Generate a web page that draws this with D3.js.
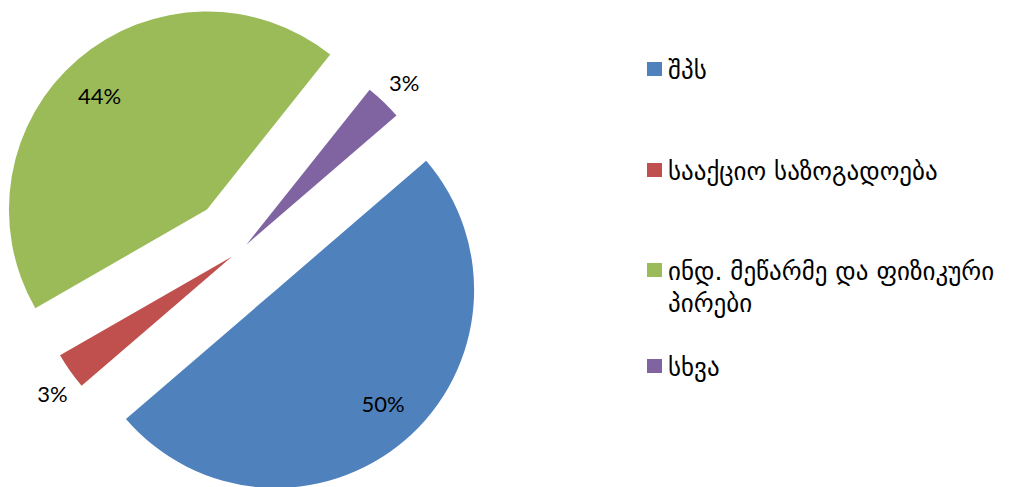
<!DOCTYPE html>
<html>
<head>
<meta charset="utf-8">
<script src="https://cdn.jsdelivr.net/npm/d3@7"></script>
<style>
    body { margin: 0; background: #fff; }
    .pct-label { font-family: Lato, 'DejaVu Sans', sans-serif; font-size: 22px; fill: #000; }
    .legend-label { font-family: 'DejaVu Sans', sans-serif; font-size: 25px; fill: #000; }
</style>
</head>
<body>
<div id="chart"></div>
<script>
const categories = ['შპს', 'სააქციო საზოგადოება', 'ინდ. მეწარმე და ფიზიკური პირები', 'სხვა'];
const values = [50, 3, 44, 3];
const colors = ['#4F81BD', '#C0504D', '#9BBB59', '#8064A2'];

class ExplodedPie {

    constructor(_config) {
        this.config = {
            parentElement: _config.parentElement,
            containerWidth: _config.containerWidth || 1012,
            containerHeight: _config.containerHeight || 487,
            center: {x: 241.5, y: 249.7},
            radius: 198,
            firstSliceAngle: 49.3,
            explode: [53, 12, 53, 7],
            labelShift: [-2.5, -2.2, -2.7, 0.4],
            legend: {x: 647, y: 62, rowStep: [101, 100, 96], maxWidth: 340, lineHeight: 32}
        }
        this.initVis();
    }

    initVis() {
        let vis = this;

        vis.svg = d3.select(vis.config.parentElement).append('svg')
            .attr('width', vis.config.containerWidth)
            .attr('height', vis.config.containerHeight);

        vis.chart = vis.svg.append('g')
            .attr('transform', `translate(${vis.config.center.x}, ${vis.config.center.y})`);
        vis.legend = vis.svg.append('g')
            .attr('transform', `translate(${vis.config.legend.x}, ${vis.config.legend.y})`);

        let start = vis.config.firstSliceAngle * Math.PI / 180;
        vis.pie = d3.pie().sort(null).value(d => d.value)
            .startAngle(start).endAngle(start + 2 * Math.PI);
        vis.arc = d3.arc().innerRadius(0).outerRadius(vis.config.radius);
        vis.colorScale = d3.scaleOrdinal().domain(categories).range(colors);

        vis.data = categories.map((c, i) => ({category: c, value: values[i]}));
        vis.renderVis();
    }

    renderVis() {
        let vis = this;
        let r = vis.config.radius;
        let total = d3.sum(vis.data, d => d.value);

        let offset = (d, i) => {
            let mid = (d.startAngle + d.endAngle) / 2;
            let e = vis.config.explode[i];
            return [e * Math.sin(mid), -e * Math.cos(mid)];
        };

        let slices = vis.chart.selectAll('.slice')
            .data(vis.pie(vis.data))
            .join('g')
                .attr('class', 'slice')
                .attr('transform', (d, i) => `translate(${offset(d, i)})`);

        slices.append('path')
            .attr('d', vis.arc)
            .attr('fill', d => vis.colorScale(d.data.category));

        // big slices get labels inside, thin ones outside (excel "best fit")
        let labelPos = (d, i) => {
            let mid = (d.startAngle + d.endAngle) / 2 + vis.config.labelShift[i] * Math.PI / 180;
            let dist = d.value / total > 0.1 ? r * 0.79 : r + 28;
            return [dist * Math.sin(mid), -dist * Math.cos(mid)];
        };
        slices.append('text')
            .attr('class', 'pct-label')
            .attr('transform', (d, i) => `translate(${labelPos(d, i)})`)
            .attr('text-anchor', 'middle')
            .attr('dy', '0.35em')
            .text(d => `${Math.round(d.value / total * 100)}%`);

        // legend
        let cfg = vis.config.legend;
        let y = 0;
        vis.data.forEach((d, i) => {
            let row = vis.legend.append('g').attr('transform', `translate(0, ${y})`);
            row.append('rect')
                .attr('width', 15).attr('height', 14)
                .attr('fill', vis.colorScale(d.category));
            let text = row.append('text')
                .attr('class', 'legend-label')
                .attr('x', 21).attr('y', 17);
            vis.wrap(text, d.category, cfg.maxWidth, cfg.lineHeight);
            y += cfg.rowStep[i] || 0;
        });
    }

    wrap(text, label, width, lineHeight) {
        let words = label.split(' ');
        let line = [];
        let tspan = text.append('tspan').attr('x', 21);
        words.forEach(w => {
            line.push(w);
            tspan.text(line.join(' '));
            if (tspan.node().getComputedTextLength() > width && line.length > 1) {
                line.pop();
                tspan.text(line.join(' '));
                line = [w];
                tspan = text.append('tspan').attr('x', 21).attr('dy', lineHeight).text(w);
            }
        });
    }
}

new ExplodedPie({parentElement: '#chart'});
</script>
</body>
</html>
